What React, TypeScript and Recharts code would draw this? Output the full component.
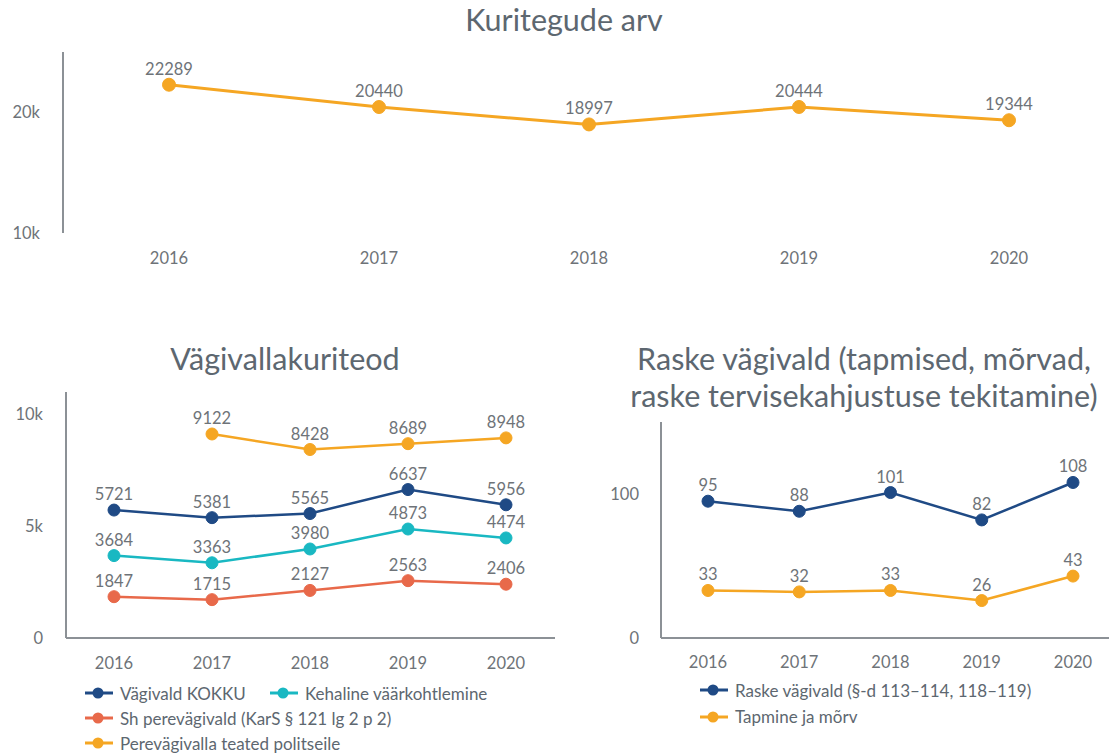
import React from 'react';
import { LineChart, Line, XAxis, YAxis, LabelList } from 'recharts';

const years = ['2016', '2017', '2018', '2019', '2020'];

const totalCrimes = [22289, 20440, 18997, 20444, 19344];

const violenceTotal = [5721, 5381, 5565, 6637, 5956];
const physicalAbuse = [3684, 3363, 3980, 4873, 4474];
const domesticViolence = [1847, 1715, 2127, 2563, 2406];
const domesticReports = [null, 9122, 8428, 8689, 8948];

const severeViolence = [95, 88, 101, 82, 108];
const homicide = [33, 32, 33, 26, 43];

const topTicks = [10000, 20000];
const leftTicks = [0, 5000, 10000];
const rightTicks = [0, 100];

const ORANGE = '#F5A623';
const NAVY = '#1F4A85';
const TEAL = '#19B8C2';
const CORAL = '#E8694A';
const TEXT = '#6E7378';
const TITLE = '#5D6770';
const AXIS = '#8C9196';
const FONT = 'Lato, "Noto Sans", sans-serif';

const topData = years.map((y, i) => ({ year: y, total: totalCrimes[i] }));
const leftData = years.map((y, i) => ({
  year: y,
  total: violenceTotal[i],
  physical: physicalAbuse[i],
  domestic: domesticViolence[i],
  reports: domesticReports[i],
}));
const rightData = years.map((y, i) => ({ year: y, severe: severeViolence[i], homicide: homicide[i] }));

const leftSeries = [
  { key: 'total', name: 'Vägivald KOKKU', color: NAVY },
  { key: 'physical', name: 'Kehaline väärkohtlemine', color: TEAL },
  { key: 'domestic', name: 'Sh perevägivald (KarS § 121 lg 2 p 2)', color: CORAL },
  { key: 'reports', name: 'Perevägivalla teated politseile', color: ORANGE },
];
const rightSeries = [
  { key: 'severe', name: 'Raske vägivald (§-d 113–114, 118–119)', color: NAVY },
  { key: 'homicide', name: 'Tapmine ja mõrv', color: ORANGE },
];

const kFmt = (v: number) => (v === 0 ? '0' : `${v / 1000}k`);
const tickStyle = { fill: TEXT, fontSize: 16.5, fontFamily: FONT };
const labelStyle = { fill: TEXT, fontSize: 16.5, fontFamily: FONT };

function renderLine(key: string, color: string, width = 2.5, r = 6) {
  return (
    <Line
      key={key}
      type="linear"
      dataKey={key}
      stroke={color}
      strokeWidth={width}
      dot={{ r, fill: color, stroke: color, strokeWidth: 1 }}
      activeDot={false}
      isAnimationActive={false}
      connectNulls={false}
    >
      <LabelList dataKey={key} position="top" offset={10} style={labelStyle} />
    </Line>
  );
}

function LegendBlock({
  items,
  left,
  top,
  width,
  rowHeight,
}: {
  items: { key: string; name: string; color: string }[];
  left: number;
  top: number;
  width: number;
  rowHeight: number;
}) {
  return (
    <div
      style={{
        position: 'absolute',
        left,
        top,
        width,
        display: 'flex',
        flexWrap: 'wrap',
        columnGap: 24,
        fontFamily: FONT,
        fontSize: 17,
        color: TITLE,
      }}
    >
      {items.map((it) => (
        <div key={it.key} style={{ display: 'flex', alignItems: 'center', height: rowHeight, whiteSpace: 'nowrap' }}>
          <svg width={28} height={14} style={{ marginRight: 7 }}>
            <line x1={0} y1={7} x2={28} y2={7} stroke={it.color} strokeWidth={3} />
            <circle cx={13} cy={7} r={5.5} fill={it.color} />
          </svg>
          <span>{it.name}</span>
        </div>
      ))}
    </div>
  );
}

const titleStyle: React.CSSProperties = {
  position: 'absolute',
  transform: 'translateX(-50%)',
  fontFamily: FONT,
  fontSize: 30.5,
  lineHeight: '37px',
  color: TITLE,
  whiteSpace: 'nowrap',
  textAlign: 'center',
};

export default function App() {
  return (
    <div style={{ position: 'absolute', left: 0, top: 0, width: 1109, height: 755, background: '#fff', overflow: 'hidden' }}>
      <div style={{ ...titleStyle, left: 564, top: 1 }}>Kuritegude arv</div>
      <div style={{ ...titleStyle, left: 285, top: 340 }}>Vägivallakuriteod</div>
      <div style={{ ...titleStyle, left: 864, top: 340 }}>
        Raske vägivald (tapmised, mõrvad,
        <br />
        raske tervisekahjustuse tekitamine)
      </div>

      <div style={{ position: 'absolute', left: 0, top: 0 }}>
        <LineChart width={1109} height={280} data={topData} margin={{ top: 52, right: 0, bottom: 17, left: 0 }}>
          <XAxis
            dataKey="year"
            axisLine={false}
            tickLine={false}
            tick={tickStyle}
            tickMargin={13}
            height={30}
            padding={{ left: 106, right: 100 }}
          />
          <YAxis
            type="number"
            domain={[10000, 25000]}
            ticks={topTicks}
            tickFormatter={kFmt}
            axisLine={{ stroke: AXIS, strokeWidth: 2 }}
            tickLine={false}
            tick={tickStyle}
            tickMargin={17}
            width={63}
            allowDataOverflow
          />
          {renderLine('total', ORANGE, 3, 6.5)}
        </LineChart>
      </div>

      <div style={{ position: 'absolute', left: 0, top: 380 }}>
        <LineChart width={570} height={300} data={leftData} margin={{ top: 12, right: 15, bottom: 12, left: 0 }}>
          <XAxis
            dataKey="year"
            axisLine={{ stroke: AXIS, strokeWidth: 2 }}
            tickLine={false}
            tick={tickStyle}
            tickMargin={13}
            height={30}
            padding={{ left: 48, right: 49 }}
          />
          <YAxis
            type="number"
            domain={[0, 11000]}
            ticks={leftTicks}
            tickFormatter={kFmt}
            axisLine={{ stroke: AXIS, strokeWidth: 2 }}
            tickLine={false}
            tick={tickStyle}
            tickMargin={17}
            width={66}
            allowDataOverflow
          />
          {leftSeries.map((s) => renderLine(s.key, s.color))}
        </LineChart>
      </div>

      <div style={{ position: 'absolute', left: 580, top: 380 }}>
        <LineChart width={529} height={300} data={rightData} margin={{ top: 42, right: 0, bottom: 12, left: 0 }}>
          <XAxis
            dataKey="year"
            axisLine={{ stroke: AXIS, strokeWidth: 2 }}
            tickLine={false}
            tick={tickStyle}
            tickMargin={12}
            height={30}
            padding={{ left: 47, right: 36 }}
          />
          <YAxis
            type="number"
            domain={[0, 150]}
            ticks={rightTicks}
            tickFormatter={(v: number) => String(v)}
            axisLine={{ stroke: AXIS, strokeWidth: 2 }}
            tickLine={false}
            tick={tickStyle}
            tickMargin={16}
            width={81}
            allowDataOverflow
          />
          {rightSeries.map((s) => renderLine(s.key, s.color))}
        </LineChart>
      </div>

      <LegendBlock items={leftSeries} left={85} top={680.5} width={460} rowHeight={25} />
      <LegendBlock items={rightSeries} left={700} top={677} width={400} rowHeight={26.5} />
    </div>
  );
}
